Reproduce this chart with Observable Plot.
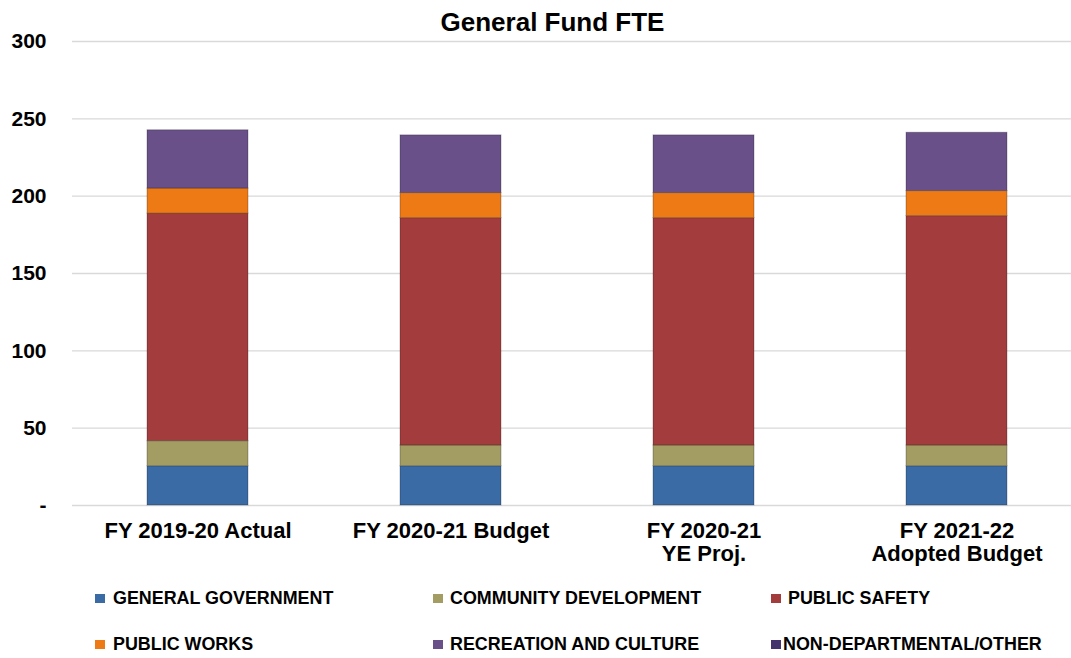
<!DOCTYPE html>
<html>
<head>
<meta charset="utf-8">
<script src="https://cdn.jsdelivr.net/npm/d3@7"></script>
<script src="https://cdn.jsdelivr.net/npm/@observablehq/plot@0.6"></script>
<style>
  body { margin: 0; background: #fff; font-family: "Liberation Sans", Arial, sans-serif; }
  #wrap { position: relative; width: 1071px; height: 658px; overflow: hidden; }
  #title { position: absolute; top: 8px; left: 0; width: 1105px; text-align: center; font-size: 26px; font-weight: bold; line-height: 28px; color: #000; }
  #chart { position: absolute; top: 0; left: 0; }
  .lg { position: absolute; font-size: 17.9px; font-weight: bold; color: #000; line-height: 20px; white-space: nowrap; }
  .lg .sw { position: absolute; width: 10px; height: 9px; top: 6px; }
</style>
</head>
<body>
<div id="wrap">
  <div id="chart"></div>
  <div id="title">General Fund FTE</div>
  <div id="legend"></div>
</div>
<script>
const years = ["FY 2019-20 Actual", "FY 2020-21 Budget", "FY 2020-21\nYE Proj.", "FY 2021-22\nAdopted Budget"];
const sectors = ["GENERAL GOVERNMENT", "COMMUNITY DEVELOPMENT", "PUBLIC SAFETY", "PUBLIC WORKS", "RECREATION AND CULTURE", "NON-DEPARTMENTAL/OTHER"];
const colors = ["#3b6ba5", "#a39c63", "#a33c3c", "#ee7a15", "#6a5089", "#45336b"];
const generalGovernment   = [25.4, 25.4, 25.4, 25.4];
const communityDevelopment = [16.2, 13.4, 13.4, 13.4];
const publicSafety        = [147.1, 147.0, 147.0, 148.3];
const publicWorks         = [16.2, 16.2, 16.2, 16.2];
const recreationCulture   = [37.7, 37.3, 37.3, 37.7];
const nonDepartmental     = [0, 0, 0, 0];
const yTicks = [0, 50, 100, 150, 200, 250, 300];

const series = [generalGovernment, communityDevelopment, publicSafety, publicWorks, recreationCulture, nonDepartmental];
const data = [];
years.forEach((y, i) => sectors.forEach((s, j) => data.push({year: y, sector: s, value: series[j][i]})));

const chart = Plot.plot({
  width: 1071,
  height: 580,
  marginTop: 41,
  marginBottom: 75,
  marginLeft: 72,
  marginRight: 0,
  style: {fontFamily: "'Liberation Sans', Arial, sans-serif", background: "white", color: "#000"},
  x: {domain: years, range: [71.5, 1083.5], paddingInner: 0.6, paddingOuter: 0.3, label: null},
  y: {domain: [0, 300], label: null},
  color: {domain: sectors, range: colors},
  marks: [
    Plot.ruleY(yTicks, {stroke: "#d9d9d9", strokeWidth: 1.3}),
    Plot.barY(data, Plot.stackY({x: "year", y: "value", fill: "sector", order: null,
      stroke: "#00000040", strokeWidth: 1})),
    Plot.axisY(yTicks, {tickSize: 0, tickPadding: 26, fontSize: 21, fontWeight: "bold",
      tickFormat: d => d === 0 ? "-" : String(d), label: null}),
    Plot.axisX({tickSize: 0, tickPadding: 16, fontSize: 22, fontWeight: "bold", lineHeight: 1.05, label: null})
  ]
});
document.getElementById("chart").appendChild(chart);

const legend = document.getElementById("legend");
const pos = [[95, 113, 588], [433, 450, 588], [771, 788, 588], [95, 113, 634], [433, 450, 634], [771, 783, 634]];
sectors.forEach((s, i) => {
  const [mx, tx, ty] = pos[i];
  const d = document.createElement("div");
  d.className = "lg";
  d.style.left = mx + "px";
  d.style.top = ty + "px";
  d.innerHTML = `<span class="sw" style="left:0;background:${colors[i]}"></span><span style="position:absolute;left:${tx - mx}px">${s}</span>`;
  legend.appendChild(d);
});
</script>
</body>
</html>
